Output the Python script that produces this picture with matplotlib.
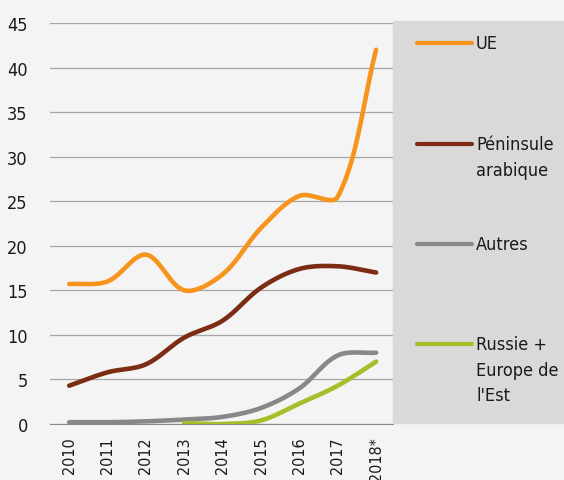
import numpy as np
import matplotlib.pyplot as plt
from matplotlib.patches import Rectangle
from matplotlib.lines import Line2D
from matplotlib import font_manager as fm

years = ["2010", "2011", "2012", "2013", "2014", "2015", "2016", "2017", "2018*"]
ue = [15.7, 16.0, 19.0, 15.0, 16.8, 22.0, 25.6, 25.5, 42.0]
peninsule = [4.3, 5.8, 6.7, 9.7, 11.6, 15.3, 17.4, 17.7, 17.0]
autres = [0.2, 0.2, 0.3, 0.5, 0.8, 1.8, 4.0, 7.7, 8.0]
russie_years = ["2013", "2014", "2015", "2016", "2017", "2018*"]
russie = [0.1, 0.0, 0.4, 2.3, 4.3, 7.0]

labels = ["UE", "Péninsule\narabique", "Autres", "Russie +\nEurope de\nl'Est"]
colors = ["#f7941d", "#7b2c12", "#888888", "#a9bd2b"]

BG = "#f3f4f3"
FP = fm.FontProperties(family="DejaVu Sans", stretch="condensed", size=13)
FPX = fm.FontProperties(family="DejaVu Sans", stretch="condensed", size=11.5)


def smooth(x, y, n=40, sx=38.4, sy=8.91):
    # bezier smoothing, control arms weighted by segment length (like Excel)
    P = np.column_stack([np.asarray(x, float) * sx, np.asarray(y, float) * sy])
    k = len(P)
    cin, cout = P.copy(), P.copy()
    for i in range(k):
        prv = P[max(i - 1, 0)]
        nxt = P[min(i + 1, k - 1)]
        d = nxt - prv
        lp = np.linalg.norm(P[i] - prv)
        ln = np.linalg.norm(nxt - P[i])
        tot = lp + ln
        cin[i] = P[i] - d * lp / tot / 3
        cout[i] = P[i] + d * ln / tot / 3
    t = np.linspace(0, 1, n)[:, None]
    pts = []
    for i in range(k - 1):
        a, b, c, e = P[i], cout[i], cin[i + 1], P[i + 1]
        pts.append((1 - t) ** 3 * a + 3 * (1 - t) ** 2 * t * b
                   + 3 * (1 - t) * t ** 2 * c + t ** 3 * e)
    pts = np.vstack(pts)
    return pts[:, 0] / sx, pts[:, 1] / sy


fig = plt.figure(figsize=(5.64, 4.81), dpi=100, facecolor=BG)
ax = fig.add_axes([50 / 564, 56 / 481, 343 / 564, 401 / 481])
ax.set_facecolor(BG)

xi = np.arange(len(years))
series = [(xi, ue), (xi, peninsule), (xi, autres),
          (np.array([years.index(y) for y in russie_years]), russie)]
for (x, y), c in zip(series, colors):
    sx, sy = smooth(x, y)
    ax.plot(sx, sy, color=c, lw=3.3, solid_capstyle="round", zorder=3)

ax.set_xlim(-0.5, 8.44)
ax.set_ylim(0, 45)
ax.set_yticks(range(0, 46, 5))
ax.set_xticks(xi)
ax.set_xticklabels(years, rotation=90, va="top")
ax.grid(axis="y", color="#a6a6a6", lw=0.9)
ax.set_axisbelow(True)
for s in ["top", "right", "left"]:
    ax.spines[s].set_visible(False)
ax.spines["bottom"].set_color("#8c8c8c")
ax.tick_params(length=0, pad=16)
ax.tick_params(axis="x", pad=9)
for t in ax.get_yticklabels():
    t.set_fontproperties(FP)
    t.set_color("#1a1a1a")
for t in ax.get_xticklabels():
    t.set_fontproperties(FPX)
    t.set_color("#1a1a1a")

# legend panel
fig.patches.append(Rectangle((393 / 564, 1 - 424 / 481), 171 / 564, 402 / 481,
                             transform=fig.transFigure, color="#d9d9d9", zorder=0))
ys_leg = [44, 145, 245, 345]
for lab, c, yp in zip(labels, colors, ys_leg):
    yf = 1 - yp / 481
    fig.add_artist(Line2D([417 / 564, 472 / 564], [yf, yf], color=c, lw=3,
                          solid_capstyle="round", transform=fig.transFigure))
    fig.text(476 / 564, yf + 9 / 481, lab, ha="left", va="top",
             fontproperties=FP, color="#1a1a1a", linespacing=1.55)

fig.savefig("out.png", dpi=100, facecolor=BG)
